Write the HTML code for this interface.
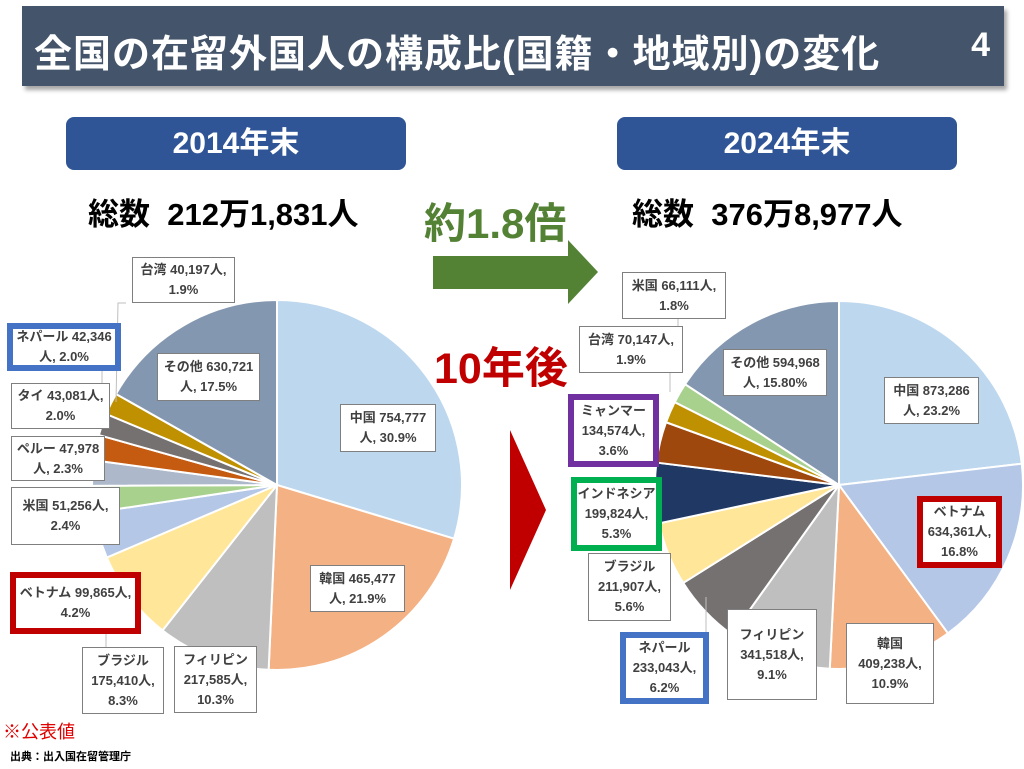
<!DOCTYPE html>
<html><head><meta charset="utf-8">
<style>
body{margin:0;width:1024px;height:769px;background:#fff;position:relative;overflow:hidden;font-family:"Liberation Sans","Noto Sans CJK JP",sans-serif}
.abs{position:absolute}
.hdr{left:22px;top:6px;width:982px;height:80px;background:#44546a;box-shadow:3px 4px 4px rgba(0,0,0,.35)}
.hdr .t{position:absolute;left:12px;top:17px;color:#fff;font-size:38px;font-weight:bold;letter-spacing:1px;white-space:nowrap}
.hdr .n{position:absolute;right:14px;top:20px;color:#fff;font-size:34px;font-weight:bold}
.pill{background:#2f5597;color:#fff;font-size:30px;font-weight:bold;text-align:center;line-height:53px;border-radius:8px;height:53px}
.tot{font-size:31px;font-weight:bold;color:#000;white-space:nowrap}
.lb{position:absolute;box-sizing:border-box;background:#fff;border:1.5px solid #7f7f7f;display:flex;align-items:center;justify-content:center;text-align:center;font-size:13px;font-weight:bold;color:#404040;line-height:20px}
.blue{border:6px solid #4472c4}.red{border:6px solid #c00000}.pur{border:6px solid #7030a0}.grn{border:6px solid #00b050}
</style></head><body>
<div class="abs hdr"><div class="t">全国の在留外国人の構成比(国籍・地域別)の変化</div><div class="n">4</div></div>
<div class="abs pill" style="left:66px;top:117px;width:340px">2014年末</div>
<div class="abs pill" style="left:617px;top:117px;width:340px">2024年末</div>
<div class="abs tot" style="left:88px;top:189px">総数&nbsp; 212万1,831人</div>
<div class="abs tot" style="left:632px;top:189px">総数&nbsp; 376万8,977人</div>
<div class="abs" style="left:424px;top:190px;font-size:42px;font-weight:bold;color:#548235;white-space:nowrap">約1.8倍</div>
<div class="abs" style="left:434px;top:334px;font-size:43px;font-weight:bold;color:#c00000;white-space:nowrap">10年後</div>
<svg class="abs" style="left:0;top:0" width="1024" height="769">
<polygon points="433,256 568,256 568,240 598,272 568,304 568,289 433,289" fill="#548235"/>
<polygon points="510,430 546,510 510,590" fill="#c00000"/>
<g id="p1" stroke="#fff" stroke-width="2"></g>
<g id="p2" stroke="#fff" stroke-width="2"></g>
<g stroke="#bfbfbf" stroke-width="1" fill="none">
<polyline points="126,303 118,303 116,402"/>
<polyline points="102,371 102,396"/>
<polyline points="106,714 106,608"/>
<polyline points="678,319 678,372"/>
<polyline points="670,373 670,392"/>
<polyline points="706,632 706,597"/>
</g>
</svg>
<script>
function pie(id,cx,cy,r,data){var g=document.getElementById(id),s=0,t=0;data.forEach(d=>t+=d[0]);
data.forEach(d=>{var a0=s/t*2*Math.PI,a1=(s+d[0])/t*2*Math.PI;s+=d[0];
var x0=cx+r*Math.sin(a0),y0=cy-r*Math.cos(a0),x1=cx+r*Math.sin(a1),y1=cy-r*Math.cos(a1);
var p=document.createElementNS("http://www.w3.org/2000/svg","path");
p.setAttribute("d","M"+cx+","+cy+"L"+x0+","+y0+"A"+r+","+r+" 0 "+((a1-a0)>Math.PI?1:0)+" 1 "+x1+","+y1+"Z");
p.setAttribute("fill",d[1]);g.appendChild(p);});}
pie("p1",277,485,185,[[30.9,"#bdd7ee"],[21.9,"#f4b183"],[10.3,"#bfbfbf"],[8.3,"#ffe699"],[4.2,"#b4c7e7"],[2.4,"#a9d18e"],[2.3,"#adb9ca"],[2.3,"#c55a11"],[2.0,"#767171"],[2.0,"#bf9000"],[17.5,"#8497b0"]]);
pie("p2",839,485,184,[[23.2,"#bdd7ee"],[16.8,"#b4c7e7"],[10.9,"#f4b183"],[9.1,"#bfbfbf"],[6.2,"#767171"],[5.6,"#ffe699"],[5.3,"#203864"],[3.6,"#9e480e"],[1.9,"#bf9000"],[1.8,"#a9d18e"],[15.8,"#8497b0"]]);
</script>
<div class="lb" style="left:132px;top:257px;width:103px;height:46px">台湾 40,197人,<br>1.9%</div>
<div class="lb blue" style="left:7px;top:323px;width:114px;height:48px">ネパール 42,346<br>人, 2.0%</div>
<div class="lb" style="left:11px;top:383px;width:99px;height:46px">タイ 43,081人,<br>2.0%</div>
<div class="lb" style="left:11px;top:436px;width:94px;height:45px">ペルー 47,978<br>人, 2.3%</div>
<div class="lb" style="left:11px;top:487px;width:109px;height:58px">米国 51,256人,<br>2.4%</div>
<div class="lb red" style="left:10px;top:572px;width:131px;height:62px">ベトナム 99,865人,<br>4.2%</div>
<div class="lb" style="left:82px;top:647px;width:82px;height:67px">ブラジル<br>175,410人,<br>8.3%</div>
<div class="lb" style="left:174px;top:646px;width:83px;height:67px">フィリピン<br>217,585人,<br>10.3%</div>
<div class="lb" style="left:310px;top:565px;width:95px;height:47px">韓国 465,477<br>人, 21.9%</div>
<div class="lb" style="left:340px;top:404px;width:96px;height:48px">中国 754,777<br>人, 30.9%</div>
<div class="lb" style="left:157px;top:353px;width:103px;height:48px">その他 630,721<br>人, 17.5%</div>

<div class="lb" style="left:622px;top:272px;width:104px;height:47px">米国 66,111人,<br>1.8%</div>
<div class="lb" style="left:579px;top:326px;width:104px;height:47px">台湾 70,147人,<br>1.9%</div>
<div class="lb pur" style="left:568px;top:394px;width:91px;height:73px">ミャンマー<br>134,574人,<br>3.6%</div>
<div class="lb grn" style="left:571px;top:477px;width:91px;height:74px">インドネシア<br>199,824人,<br>5.3%</div>
<div class="lb" style="left:588px;top:553px;width:83px;height:68px">ブラジル<br>211,907人,<br>5.6%</div>
<div class="lb blue" style="left:620px;top:632px;width:89px;height:72px">ネパール<br>233,043人,<br>6.2%</div>
<div class="lb" style="left:727px;top:609px;width:90px;height:91px">フィリピン<br>341,518人,<br>9.1%</div>
<div class="lb" style="left:846px;top:623px;width:88px;height:81px">韓国<br>409,238人,<br>10.9%</div>
<div class="lb red" style="left:917px;top:496px;width:85px;height:72px">ベトナム<br>634,361人,<br>16.8%</div>
<div class="lb" style="left:884px;top:377px;width:95px;height:47px">中国 873,286<br>人, 23.2%</div>
<div class="lb" style="left:723px;top:349px;width:104px;height:47px">その他 594,968<br>人, 15.80%</div>

<div class="abs" style="left:3px;top:718px;font-size:18px;color:#e00000">※公表値</div>
<div class="abs" style="left:10px;top:748px;font-size:11px;font-weight:bold;color:#000">出典：出入国在留管理庁</div>
</body></html>
